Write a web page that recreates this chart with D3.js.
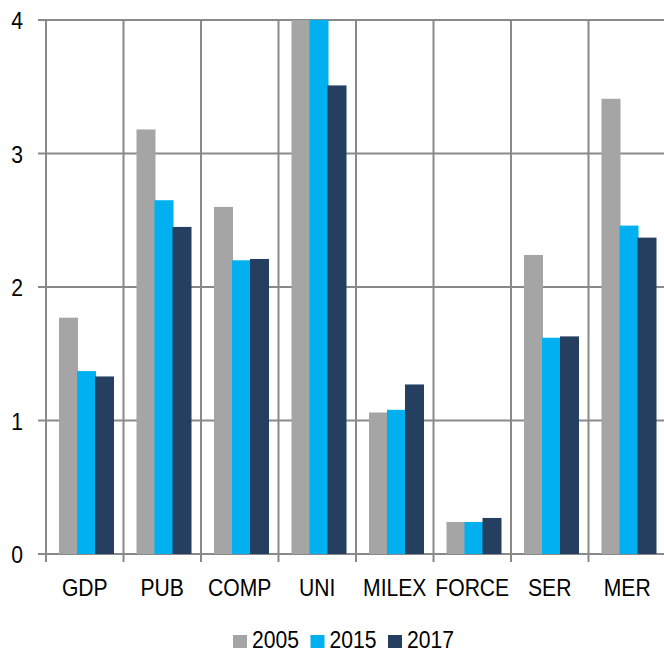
<!DOCTYPE html>
<html lang="en">
  <head>
    <meta charset="utf-8">
    <title>Bar chart 2005 / 2015 / 2017</title>
    <style>
      body {
        margin: 0;
        background: white;
      }
      svg {
        display: block;
      }
      text {
        font-family: "Liberation Sans", Arial, sans-serif;
        font-size: 24px;
        fill: black;
      }
    </style>
    <script src="https://cdn.jsdelivr.net/npm/d3@7"></script>
  </head>
  <body>
    <div class="viz"></div>
    <script>
    const categories = ["GDP", "PUB", "COMP", "UNI", "MILEX", "FORCE", "SER", "MER"];
    const years = ["2005", "2015", "2017"];
    const values2005 = [1.77, 3.18, 2.60, 4.6, 1.06, 0.24, 2.24, 3.41];
    const values2015 = [1.37, 2.65, 2.20, 4.4, 1.08, 0.24, 1.62, 2.46];
    const values2017 = [1.33, 2.45, 2.21, 3.51, 1.27, 0.27, 1.63, 2.37];
    const yTicks = [0, 1, 2, 3, 4];
    const colors = ["#a5a5a5", "#00b0f0", "#243f60"];

    const series = [values2005, values2015, values2017];

    // the reference font is a narrow sans, so squeeze text a bit
    const squeeze = 0.88;

    const totalWidth = 664, totalHeight = 653;
    const margin = { top: 20, left: 46, right: -2, bottom: 99 };
    const width = totalWidth - margin.left - margin.right,
          height = totalHeight - margin.top - margin.bottom;

    const svg = d3.select(".viz")
      .append("svg")
      .attr("width", totalWidth)
      .attr("height", totalHeight)

    const g = svg.append("g")
      .attr("transform", `translate(${margin.left},${margin.top})`)

    const x0 = d3.scaleBand()
      .domain(categories)
      .range([0, width])

    const x1 = d3.scaleBand()
      .domain(years)
      .range([13, 67])

    const y = d3.scaleLinear()
      .domain([0, 4])
      .range([height, 0])

    const gridColor = "#898989"

    // horizontal gridlines
    g.append("g")
      .selectAll("line")
      .data(yTicks)
      .join("line")
      .attr("x1", -8)
      .attr("x2", width)
      .attr("y1", d => y(d))
      .attr("y2", d => y(d))
      .attr("stroke", gridColor)
      .attr("stroke-width", 2)

    // vertical gridlines at category boundaries
    const bounds = categories.map(c => x0(c)).concat([width])
    g.append("g")
      .selectAll("line")
      .data(bounds)
      .join("line")
      .attr("x1", d => d)
      .attr("x2", d => d)
      .attr("y1", 0)
      .attr("y2", height + 8)
      .attr("stroke", gridColor)
      .attr("stroke-width", 2)

    g.append("clipPath")
      .attr("id", "plotClip")
      .append("rect")
      .attr("x", 0)
      .attr("y", 0)
      .attr("width", width)
      .attr("height", height)

    const bars = g.append("g").attr("clip-path", "url(#plotClip)")

    years.forEach((yr, si) => {
      bars.append("g")
        .selectAll("rect")
        .data(categories.map((c, i) => ({ cat: c, v: series[si][i] })))
        .join("rect")
        .attr("x", d => x0(d.cat) + x1(yr))
        .attr("width", x1.bandwidth() + 1)
        .attr("y", d => y(d.v))
        .attr("height", d => y(0) - y(d.v))
        .attr("fill", colors[si])
    })

    // y axis labels
    const yAxis = g.append("g")
      .call(d3.axisLeft(y).tickValues(yTicks).tickFormat(d3.format("d")).tickSize(0).tickPadding(0))
    yAxis.select(".domain").remove()
    yAxis.selectAll("text")
      .attr("x", null)
      .attr("dy", "0.36em")
      .attr("transform", `translate(-23,0) scale(${squeeze},1)`)
      .style("font-size", "24px")
      .style("font-family", "Liberation Sans, Arial, sans-serif")

    // x axis labels
    const xAxis = g.append("g")
      .attr("transform", `translate(0,${height})`)
      .call(d3.axisBottom(x0).tickSize(0))
    xAxis.select(".domain").remove()
    xAxis.selectAll("text")
      .attr("y", 42)
      .attr("dy", null)
      .attr("transform", `scale(${squeeze},1)`)
      .style("font-size", "24px")
      .style("font-family", "Liberation Sans, Arial, sans-serif")

    // legend
    const legend = svg.append("g")
      .attr("transform", "translate(233,0)")

    const item = legend.selectAll("g")
      .data(years)
      .join("g")
      .attr("transform", (d, i) => `translate(${i * 77.5},0)`)

    item.append("rect")
      .attr("x", 0)
      .attr("y", 635)
      .attr("width", 14)
      .attr("height", 13)
      .attr("fill", (d, i) => colors[i])

    item.append("text")
      .attr("transform", `translate(19,648) scale(${squeeze},1)`)
      .text(d => d)
    </script>
  </body>
</html>
